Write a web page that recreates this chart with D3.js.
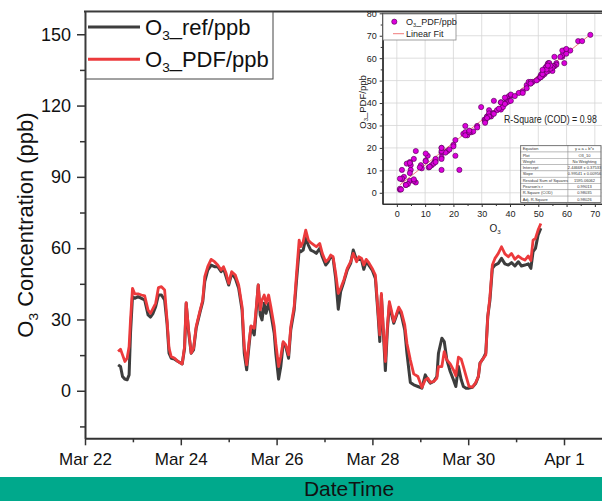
<!DOCTYPE html>
<html>
<head>
<meta charset="utf-8">
<script src="https://cdn.jsdelivr.net/npm/d3@7/dist/d3.min.js"></script>
<style>
  body { margin: 0; background: #fff; }
  svg { display: block; font-family: Arial, "Liberation Sans", sans-serif; }
</style>
</head>
<body>
<div id="my_dataviz"></div>
<script>
let width = 602;
let height = 501;

// time of each sample, hours after Mar 22 00:00
let hours = [16.6,17.8,18.8,20.0,21.1,22.1,22.8,23.8,24.9,26.6,
  28.3,29.9,31.6,32.8,34.1,35.4,36.8,38.3,39.9,41.1,
  42.1,43.2,44.9,46.6,48.7,49.9,50.7,51.9,53.2,54.4,
  55.7,57.7,59.0,60.0,61.5,63.2,64.9,66.5,68.2,69.4,
  70.7,72.0,73.5,75.3,77.0,78.7,79.8,81.0,82.3,83.2,
  84.8,85.7,86.8,87.8,88.7,89.8,90.7,92.0,93.1,94.8,
  95.6,97.0,98.1,99.3,100.6,102.0,103.1,104.8,106.0,107.3,
  108.1,109.3,110.6,111.9,113.1,114.8,115.9,117.6,118.9,120.6,
  121.9,123.1,124.3,125.6,126.9,128.1,129.7,131.4,133.1,134.4,
  136.1,137.2,138.6,139.7,140.9,142.2,143.9,145.5,146.9,147.7,
  148.5,149.5,150.5,151.5,152.5,153.5,154.7,155.9,157.2,158.5,
  160.2,161.3,163.0,164.7,166.8,168.8,170.5,171.8,173.0,174.7,
  176.3,177.1,178.8,180.0,181.3,183.0,184.6,185.8,187.1,188.5,
  189.6,190.9,192.4,194.1,195.8,197.1,197.9,199.6,200.8,201.8,
  202.9,204.1,205.4,207.1,208.7,210.4,212.1,213.7,215.4,217.1,
  218.7,220.4,222.1,223.4,224.5,225.7,227.0,228.4];

let o3Ref = [10.9,10.2,6.0,4.9,4.6,6.7,24.2,39.6,38.9,39.6,
  38.9,38.2,31.9,31.0,32.6,35.4,40.3,40.3,38.2,28.4,
  15.8,13.7,13.3,12.3,11.3,17.9,36.8,24.9,15.8,17.2,
  26.3,33.3,37.5,45.9,50.8,52.9,52.2,52.2,50.1,51.5,
  48.0,44.5,49.4,47.3,43.1,34.0,15.8,8.8,20.0,27.0,
  23.5,32.6,44.5,31.9,29.8,36.8,32.6,36.8,32.6,24.2,
  15.8,4.9,10.2,20.0,18.6,13.7,25.6,34.0,46.6,59.2,
  58.5,59.2,64.1,61.3,59.2,58.5,57.8,59.9,56.4,52.9,
  54.3,56.4,55.7,47.3,34.3,41.7,45.9,50.8,53.6,59.2,
  55.0,55.3,55.0,51.1,54.3,52.9,50.8,47.3,31.2,20.7,
  40.3,24.2,8.5,25.6,36.1,32.6,28.4,31.2,34.3,31.9,
  25.6,15.8,3.5,2.5,1.8,1.1,6.7,4.6,3.2,3.9,
  6.0,15.8,22.1,20.7,13.0,8.1,4.6,1.8,10.2,4.6,
  1.8,1.1,1.1,1.5,3.2,6.0,11.6,13.7,15.8,31.2,
  38.2,51.5,52.9,53.6,55.7,53.4,52.9,53.9,52.5,54.3,
  52.5,52.9,53.4,51.5,58.5,59.9,65.5,68.4];

let o3Pdf = [16.5,17.5,15.1,12.3,13.7,18.6,29.8,43.1,40.8,40.8,
  40.3,39.9,34.0,32.6,34.7,36.8,43.4,43.8,42.4,29.8,
  17.9,14.4,13.7,12.3,11.3,18.6,37.1,25.6,15.8,17.9,
  27.0,34.0,38.2,48.0,52.2,55.3,54.3,52.9,50.8,52.2,
  49.4,45.2,50.1,48.7,44.5,35.4,18.6,10.9,21.4,27.3,
  26.3,34.0,44.5,34.0,38.2,40.3,36.8,40.3,35.4,27.0,
  20.0,10.2,14.4,20.7,19.3,15.1,27.0,35.4,49.4,63.4,
  60.6,62.7,67.6,63.4,62.3,61.3,60.6,62.0,57.8,54.3,
  55.3,57.1,56.4,49.4,41.0,43.1,46.6,51.5,54.3,57.8,
  54.3,56.4,55.7,52.9,55.3,53.9,51.5,48.7,32.6,23.5,
  41.0,25.6,12.3,27.0,37.5,34.0,29.1,31.9,35.2,33.3,
  27.7,20.0,13.0,7.1,6.0,1.4,4.6,5.3,3.5,3.9,
  5.3,10.2,10.2,16.5,13.0,11.3,8.8,6.3,14.1,13.3,
  10.2,6.3,1.8,1.5,3.5,6.0,11.6,13.7,15.1,31.2,
  39.6,52.9,55.7,57.8,60.6,57.6,56.4,57.8,55.3,56.7,
  55.7,55.0,56.7,54.8,63.4,64.1,67.6,70.4];

let xTickDates = ["2021-03-22", "2021-03-24", "2021-03-26", "2021-03-28", "2021-03-30", "2021-04-01"];
let xMinorDates = ["2021-03-23", "2021-03-25", "2021-03-27", "2021-03-29", "2021-03-31"];
let yTicks = [0, 30, 60, 90, 120, 150];
let yMinor = [-15, 15, 45, 75, 105, 135];

let legendNames = ["_ref/ppb", "_PDF/ppb"];
let legendColors = ["#3d3d3d", "#ec3a3c"];

// inset (scatter + linear fit)
let insetXTicks = [0, 10, 20, 30, 40, 50, 60, 70];
let insetXMinor = [5, 15, 25, 35, 45, 55, 65];
let insetYTicks = [0, 10, 20, 30, 40, 50, 60, 70, 80];
let insetYMinor = [5, 15, 25, 35, 45, 55, 65, 75];
let fitIntercept = 2.44668;
let fitSlope = 0.99541;
let fitLabels = ["Equation", "Plot", "Weight", "Intercept", "Slope", "Residual Sum of Squares", "Pearson's r", "R-Square (COD)", "Adj. R-Square"];
let fitValues = ["y = a + b*x", "O3_10", "No Weighting", "2.44668 \u00b1 0.37533", "0.99541 \u00b1 0.00956", "1595.06062", "0.99013", "0.98035", "0.98026"];

let parseDay = d3.timeParse("%Y-%m-%d");
let start = parseDay("2021-03-22");

let data = hours.map(function(h, i) {
  return { t: new Date(start.getTime() + h * 3600 * 1000), ref: o3Ref[i], pdf: o3Pdf[i] };
});

let svg = d3.select('#my_dataviz').append('svg')
  .attr('width', width)
  .attr('height', height);

let x = d3.scaleTime()
  .domain([start, parseDay("2021-04-02")])
  .range([85, 85 + 11 * 47.9]);

let y = d3.scaleLinear()
  .domain([-20, 160])
  .range([438.3, 10.5]);

// little helper for "O3" with subscript
function o3(sel, size, rest) {
  sel.append('tspan').text('O');
  sel.append('tspan').text('3').attr('font-size', size * 0.62).attr('dy', size * 0.22);
  sel.append('tspan').text(rest).attr('dy', -size * 0.22);
}

// lines
let line = function(key) {
  return d3.line()
    .x(function(d) { return x(d.t); })
    .y(function(d) { return y(d[key]); });
};

svg.append('path').datum(data)
  .attr('d', line('ref'))
  .attr('fill', 'none')
  .attr('stroke', legendColors[0])
  .attr('stroke-width', 3)
  .attr('stroke-linejoin', 'round');

svg.append('path').datum(data)
  .attr('d', line('pdf'))
  .attr('fill', 'none')
  .attr('stroke', legendColors[1])
  .attr('stroke-width', 2.8)
  .attr('stroke-linejoin', 'round');

// axes
let xAxis = svg.append('g')
  .attr('transform', 'translate(0,' + y(-20) + ')')
  .call(d3.axisBottom(x)
    .tickValues(xTickDates.map(parseDay))
    .tickFormat(d3.timeFormat("%b %-d"))
    .tickSize(7).tickSizeOuter(0).tickPadding(8));
xAxis.selectAll('text').attr('font-size', 17).attr('fill', '#111').attr('font-family', null);

svg.append('g')
  .attr('transform', 'translate(0,' + y(-20) + ')')
  .call(d3.axisBottom(x).tickValues(xMinorDates.map(parseDay)).tickFormat('').tickSize(4).tickSizeOuter(0))
  .select('.domain').remove();

let yAxis = svg.append('g')
  .attr('transform', 'translate(85,0)')
  .call(d3.axisLeft(y).tickValues(yTicks).tickSize(8).tickSizeOuter(0).tickPadding(6));
yAxis.selectAll('text').attr('font-size', 18).attr('fill', '#111').attr('font-family', null);

svg.append('g')
  .attr('transform', 'translate(85,0)')
  .call(d3.axisLeft(y).tickValues(yMinor).tickFormat('').tickSize(5).tickSizeOuter(0))
  .select('.domain').remove();

svg.selectAll('.domain').attr('stroke', '#333').attr('stroke-width', 2);
svg.selectAll('.tick line').attr('stroke', '#333').attr('stroke-width', 1.5);

// top border
svg.append('line')
  .attr('x1', 84).attr('x2', width)
  .attr('y1', 11.5).attr('y2', 11.5)
  .attr('stroke', '#333').attr('stroke-width', 2);

// y title
let yTitle = svg.append('text')
  .attr('transform', 'translate(33,225) rotate(-90)')
  .attr('text-anchor', 'middle')
  .attr('font-size', 22)
  .attr('fill', '#111');
o3(yTitle, 22, ' Concentration (ppb)');

// legend
let legend = svg.append('g');
legend.append('rect')
  .attr('x', 86).attr('y', 12).attr('width', 187).attr('height', 67)
  .attr('fill', '#fff').attr('stroke', '#444').attr('stroke-width', 1);

legendNames.forEach(function(name, i) {
  let ly = 27 + i * 32.3;
  legend.append('line')
    .attr('x1', 88).attr('x2', 140).attr('y1', ly).attr('y2', ly)
    .attr('stroke', legendColors[i]).attr('stroke-width', 3);
  let t = legend.append('text')
    .attr('x', 145).attr('y', ly + 8)
    .attr('font-size', 22).attr('fill', '#111');
  o3(t, 22, name);
});

// bottom band with title
svg.append('rect')
  .attr('x', 0).attr('y', 477).attr('width', width).attr('height', height - 477)
  .attr('fill', '#00a98c');
svg.append('text')
  .attr('x', 349).attr('y', 496)
  .attr('text-anchor', 'middle')
  .attr('font-size', 21)
  .attr('fill', '#111')
  .text('DateTime');

// ---------------- inset ----------------
let ix = d3.scaleLinear().domain([-5, 75]).range([382.7, 609]);
let iy = d3.scaleLinear().domain([-5, 80]).range([204, 13.3]);

let inset = svg.append('g');

inset.append('rect')
  .attr('x', ix(-5)).attr('y', iy(80))
  .attr('width', ix(75) - ix(-5)).attr('height', iy(-5) - iy(80))
  .attr('fill', '#fff');

inset.selectAll('.gx').data(insetXTicks).enter().append('line')
  .attr('x1', function(d) { return ix(d); }).attr('x2', function(d) { return ix(d); })
  .attr('y1', iy(-5)).attr('y2', iy(80))
  .attr('stroke', '#d6d6d6').attr('stroke-width', 0.8);
inset.selectAll('.gy').data(insetYTicks).enter().append('line')
  .attr('x1', ix(-5)).attr('x2', ix(75))
  .attr('y1', function(d) { return iy(d); }).attr('y2', function(d) { return iy(d); })
  .attr('stroke', '#d6d6d6').attr('stroke-width', 0.8);

inset.append('g')
  .attr('transform', 'translate(0,' + iy(-5) + ')')
  .call(d3.axisBottom(ix).tickValues(insetXTicks).tickSize(3).tickSizeOuter(0).tickPadding(4));
inset.append('g')
  .attr('transform', 'translate(0,' + iy(-5) + ')')
  .call(d3.axisBottom(ix).tickValues(insetXMinor).tickFormat('').tickSize(2).tickSizeOuter(0));
inset.append('g')
  .attr('transform', 'translate(' + ix(-5) + ',0)')
  .call(d3.axisLeft(iy).tickValues(insetYTicks).tickSize(3).tickSizeOuter(0).tickPadding(3));
inset.append('g')
  .attr('transform', 'translate(' + ix(-5) + ',0)')
  .call(d3.axisLeft(iy).tickValues(insetYMinor).tickFormat('').tickSize(2).tickSizeOuter(0));

inset.selectAll('text').attr('font-size', 9).attr('fill', '#222').attr('font-family', null);
inset.selectAll('.domain').attr('stroke', '#333').attr('stroke-width', 1);
inset.selectAll('.tick line').attr('stroke', '#333').attr('stroke-width', 1);

// frame
inset.append('rect')
  .attr('x', ix(-5)).attr('y', iy(80))
  .attr('width', ix(75) - ix(-5)).attr('height', iy(-5) - iy(80))
  .attr('fill', 'none').attr('stroke', '#333').attr('stroke-width', 1);

// fit line
let refExt = d3.extent(o3Ref);
inset.append('line')
  .attr('x1', ix(refExt[0])).attr('y1', iy(fitIntercept + fitSlope * refExt[0]))
  .attr('x2', ix(refExt[1])).attr('y2', iy(fitIntercept + fitSlope * refExt[1]))
  .attr('stroke', '#f07c7c').attr('stroke-width', 1);

// points
inset.selectAll('.pt').data(data).enter().append('circle')
  .attr('cx', function(d) { return ix(d.ref); })
  .attr('cy', function(d) { return iy(d.pdf); })
  .attr('r', 2.6)
  .attr('fill', '#dc00dc')
  .attr('stroke', '#4a004a')
  .attr('stroke-width', 0.6);

// inset titles
let ixTitle = inset.append('text')
  .attr('x', 495).attr('y', 232)
  .attr('text-anchor', 'middle').attr('font-size', 10).attr('fill', '#222');
o3(ixTitle, 10, '');
let iyTitle = inset.append('text')
  .attr('transform', 'translate(366,102) rotate(-90)')
  .attr('text-anchor', 'middle').attr('font-size', 9.5).attr('fill', '#222');
o3(iyTitle, 9.5, '_PDF/ppb');

// inset legend
inset.append('rect')
  .attr('x', 383).attr('y', 14).attr('width', 73).attr('height', 26)
  .attr('fill', '#fff').attr('stroke', '#888').attr('stroke-width', 0.8);
inset.append('circle')
  .attr('cx', 394.3).attr('cy', 21.7).attr('r', 2.6)
  .attr('fill', '#dc00dc').attr('stroke', '#4a004a').attr('stroke-width', 0.6);
let il1 = inset.append('text').attr('x', 406).attr('y', 25).attr('font-size', 9).attr('fill', '#222');
o3(il1, 9, '_PDF/ppb');
inset.append('line')
  .attr('x1', 393).attr('x2', 404).attr('y1', 33.7).attr('y2', 33.7)
  .attr('stroke', '#f07c7c').attr('stroke-width', 1);
inset.append('text').attr('x', 406).attr('y', 37).attr('font-size', 9).attr('fill', '#222').text('Linear Fit');

// R-square note (squeezed a bit so it stays inside the page)
inset.append('text')
  .attr('transform', 'translate(504,123) scale(0.84,1)')
  .attr('font-size', 10.5).attr('fill', '#222')
  .text('R-Square (COD) = 0.98');

// fit table
let tx = 520.7, ty = 145.7, rowH = 6.3, c1 = 47.3, c2 = 33;
let table = inset.append('g');
fitLabels.forEach(function(lab, i) {
  table.append('rect')
    .attr('x', tx).attr('y', ty + i * rowH).attr('width', c1).attr('height', rowH)
    .attr('fill', '#fff').attr('stroke', '#999').attr('stroke-width', 0.5);
  table.append('rect')
    .attr('x', tx + c1).attr('y', ty + i * rowH).attr('width', c2).attr('height', rowH)
    .attr('fill', '#fff').attr('stroke', '#999').attr('stroke-width', 0.5);
  table.append('text')
    .attr('x', tx + 2).attr('y', ty + i * rowH + 4.5)
    .attr('font-size', 4).attr('fill', '#333').text(lab);
  table.append('text')
    .attr('x', tx + c1 + c2 / 2).attr('y', ty + i * rowH + 4.5)
    .attr('text-anchor', 'middle')
    .attr('font-size', 4).attr('fill', '#333').text(fitValues[i]);
});
table.append('rect')
  .attr('x', tx).attr('y', ty).attr('width', c1 + c2).attr('height', rowH * fitLabels.length)
  .attr('fill', 'none').attr('stroke', '#666').attr('stroke-width', 0.8);
</script>
</body>
</html>
